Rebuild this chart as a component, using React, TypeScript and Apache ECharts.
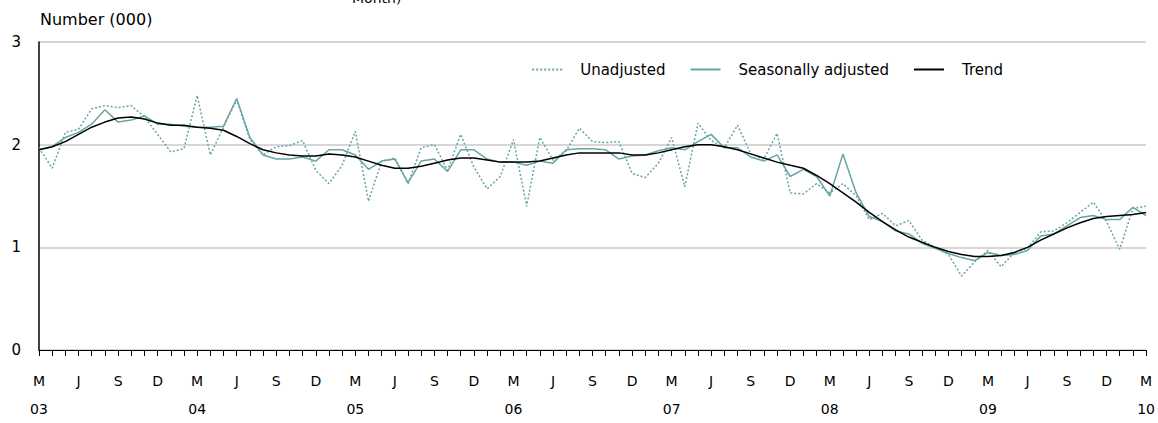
import React, { useEffect, useRef } from "react";
import * as echarts from "echarts";

const START_YEAR = 2003;
const START_MONTH = 2; // March (0-based)
const MONTH_LETTERS = ["J", "F", "M", "A", "M", "J", "J", "A", "S", "O", "N", "D"];

const unadjusted = [
  1.97, 1.77, 2.12, 2.15, 2.35, 2.38, 2.36, 2.38, 2.27, 2.1, 1.93, 1.96,
  2.48, 1.9, 2.17, 2.44, 2.05, 1.9, 1.98, 1.99, 2.04, 1.75, 1.62, 1.8,
  2.13, 1.45, 1.84, 1.87, 1.62, 1.97, 2.0, 1.75, 2.1, 1.78, 1.57, 1.69,
  2.05, 1.4, 2.07, 1.85, 1.94, 2.16, 2.03, 2.02, 2.03, 1.72, 1.68, 1.82,
  2.07, 1.59, 2.21, 2.04, 1.97, 2.19, 1.91, 1.86, 2.11, 1.53, 1.52, 1.62,
  1.53, 1.62, 1.5, 1.27, 1.33, 1.21, 1.26, 1.07, 1.0, 0.93, 0.72, 0.86,
  0.97, 0.81, 0.95, 0.99, 1.15, 1.16, 1.24, 1.34, 1.44, 1.25, 0.98, 1.38,
  1.4,
];

const seasonallyAdjusted = [
  1.95, 1.98, 2.07, 2.12, 2.2, 2.34, 2.22, 2.24, 2.28, 2.2, 2.2, 2.18,
  2.17, 2.17, 2.18, 2.45, 2.07, 1.9, 1.86, 1.86, 1.88, 1.84, 1.95, 1.95,
  1.9, 1.76, 1.84, 1.86, 1.63, 1.84, 1.86, 1.74, 1.95, 1.95, 1.86, 1.83,
  1.83, 1.8, 1.84, 1.82, 1.95, 1.96, 1.96, 1.95, 1.86, 1.89, 1.9, 1.94,
  1.97, 1.95, 2.03, 2.1, 1.97, 1.97, 1.88, 1.84, 1.9, 1.69, 1.76, 1.69,
  1.5, 1.91, 1.53, 1.3, 1.25, 1.16, 1.13, 1.04, 0.99, 0.94, 0.9, 0.87,
  0.95, 0.92, 0.93, 0.97, 1.11, 1.13, 1.21, 1.29, 1.31, 1.27, 1.27, 1.39,
  1.31,
];

const trend = [
  1.95, 1.98, 2.03, 2.1, 2.17, 2.22, 2.26, 2.27, 2.25, 2.21, 2.19, 2.19,
  2.17, 2.16, 2.14, 2.08, 2.01, 1.95, 1.92, 1.9, 1.89, 1.89, 1.91, 1.9,
  1.88, 1.84, 1.8, 1.77, 1.77, 1.79, 1.82, 1.85, 1.87, 1.87, 1.85, 1.83,
  1.83, 1.83, 1.84, 1.87, 1.9, 1.92, 1.92, 1.92, 1.92, 1.9, 1.9, 1.92,
  1.95, 1.98, 2.0, 2.0, 1.98, 1.95, 1.91, 1.87, 1.83, 1.8, 1.77, 1.7,
  1.62, 1.53, 1.44, 1.34, 1.25, 1.17, 1.1, 1.05, 1.0, 0.96, 0.93, 0.91,
  0.91, 0.92, 0.95, 1.0, 1.07, 1.13, 1.19, 1.24, 1.28, 1.3, 1.31, 1.32,
  1.34,
];

const categories = trend.map((_, i) => {
  const m = (START_MONTH + i) % 12;
  const y = START_YEAR + Math.floor((START_MONTH + i) / 12);
  return { month: m, year: y };
});
const categoryKeys = categories.map((c) => `${c.year}-${c.month + 1}`);

const TEAL = "#68a5a5";

export default function App() {
  const ref = useRef<HTMLDivElement>(null);

  useEffect(() => {
    if (!ref.current) return;
    const chart = echarts.init(ref.current, undefined, { renderer: "svg" });
    const font = "DejaVu Sans";
    chart.setOption({
      animation: false,
      backgroundColor: "#ffffff",
      grid: { left: 39, right: 1, top: 42, bottom: 66, containLabel: false },
      graphic: [
        {
          type: "text",
          left: 352,
          top: -9,
          style: { text: "Month)", fontFamily: font, fontSize: 14, fill: "#000" },
        },
        {
          type: "text",
          left: 40,
          top: 11,
          style: { text: "Number (000)", fontFamily: font, fontSize: 16, fill: "#000" },
        },
      ],
      legend: {
        top: 57,
        right: 150,
        itemWidth: 30,
        itemHeight: 10,
        itemGap: 24,
        itemStyle: { opacity: 0 },
        textStyle: {
          fontFamily: font,
          fontSize: 15,
          color: "#000",
          padding: [0, 0, 0, 13],
        },
        data: ["Unadjusted", "Seasonally adjusted", "Trend"],
      },
      xAxis: {
        type: "category",
        boundaryGap: false,
        data: categoryKeys,
        axisLine: { lineStyle: { color: "#000", width: 1 } },
        axisTick: { interval: 0, length: 6, lineStyle: { color: "#000", width: 1 } },
        axisLabel: {
          interval: 2,
          margin: 17,
          fontFamily: font,
          fontSize: 14,
          color: "#000",
          lineHeight: 28,
          formatter: (_: string, idx: number) => {
            const c = categories[idx];
            const letter = MONTH_LETTERS[c.month];
            if (c.month === 2) {
              return letter + "\n" + String(c.year % 100).padStart(2, "0");
            }
            return letter;
          },
        },
        splitLine: { show: false },
      },
      yAxis: {
        type: "value",
        min: 0,
        max: 3,
        interval: 1,
        axisLine: { show: true, lineStyle: { color: "#000", width: 1.5 } },
        axisTick: { show: false },
        axisLabel: { margin: 18, fontFamily: font, fontSize: 15, color: "#000" },
        splitLine: { lineStyle: { color: "#c8c8c8", width: 1.5 } },
      },
      series: [
        {
          name: "Unadjusted",
          type: "line",
          data: unadjusted,
          symbol: "none",
          color: TEAL,
          lineStyle: { color: TEAL, width: 1.5, type: [2, 2] },
          z: 2,
        },
        {
          name: "Seasonally adjusted",
          type: "line",
          data: seasonallyAdjusted,
          symbol: "none",
          color: TEAL,
          lineStyle: { color: TEAL, width: 1.5 },
          z: 3,
        },
        {
          name: "Trend",
          type: "line",
          data: trend,
          symbol: "none",
          color: "#000",
          lineStyle: { color: "#000", width: 1.5 },
          z: 4,
        },
      ],
    });
    return () => chart.dispose();
  }, []);

  return (
    <div
      ref={ref}
      style={{ position: "absolute", left: 0, top: 0, width: 1158, height: 423, background: "#fff" }}
    />
  );
}
